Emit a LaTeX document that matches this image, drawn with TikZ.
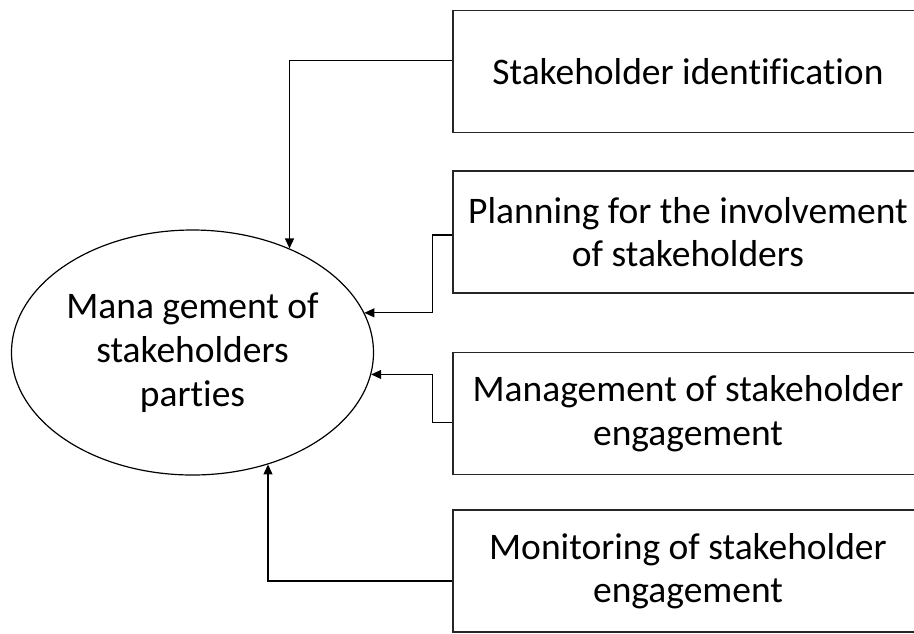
\documentclass[tikz,border=0pt]{standalone}
\usepackage{fontspec}
\setmainfont{Carlito}[Ligatures=NoCommon]
\usetikzlibrary{shapes.geometric,arrows.meta}
\begin{document}
\begin{tikzpicture}[x=1pt,y=-1pt,
    box/.style={draw=black!85,line width=1.5pt,minimum width=470pt,minimum height=122pt,
        align=center,font=\fontsize{37.5}{43.5}\selectfont},
    arr/.style={line width=1.2pt,-{Triangle[length=10pt,width=9pt]}}]
    \clip (0,0) rectangle (914,633);

    % Ellipse
    \node[ellipse,draw,line width=1.2pt,minimum width=362pt,minimum height=245pt,inner sep=0pt,
        align=center,font=\fontsize{37.5}{44}\selectfont] (mgmt) at (192.5,352.5)
        {Mana gement of\\stakeholders\\parties};

    % Boxes
    \node[box] (ident) at (688,71.5) {Stakeholder identification};
    \node[box] (plan) at (688,232) {Planning for the involvement\\of stakeholders};
    \node[box] (engage) at (688,413.5) {Management of stakeholder\\engagement};
    \node[box] (monitor) at (688,571) {Monitoring of stakeholder\\engagement};

    % Arrows
    \draw[arr] ([yshift=11pt]ident.west) -| (mgmt.47.4);
    \draw[arr] ([yshift=-3pt]plan.west) -- ++(-20,0) |- (mgmt.13);
    \draw[arr] ([yshift=-9pt]engage.west) -- ++(-20,0) |- (mgmt.-7.5);
    \draw[arr] ([yshift=-10pt]monitor.west) -| (mgmt.-56.5);
\end{tikzpicture}
\end{document}
